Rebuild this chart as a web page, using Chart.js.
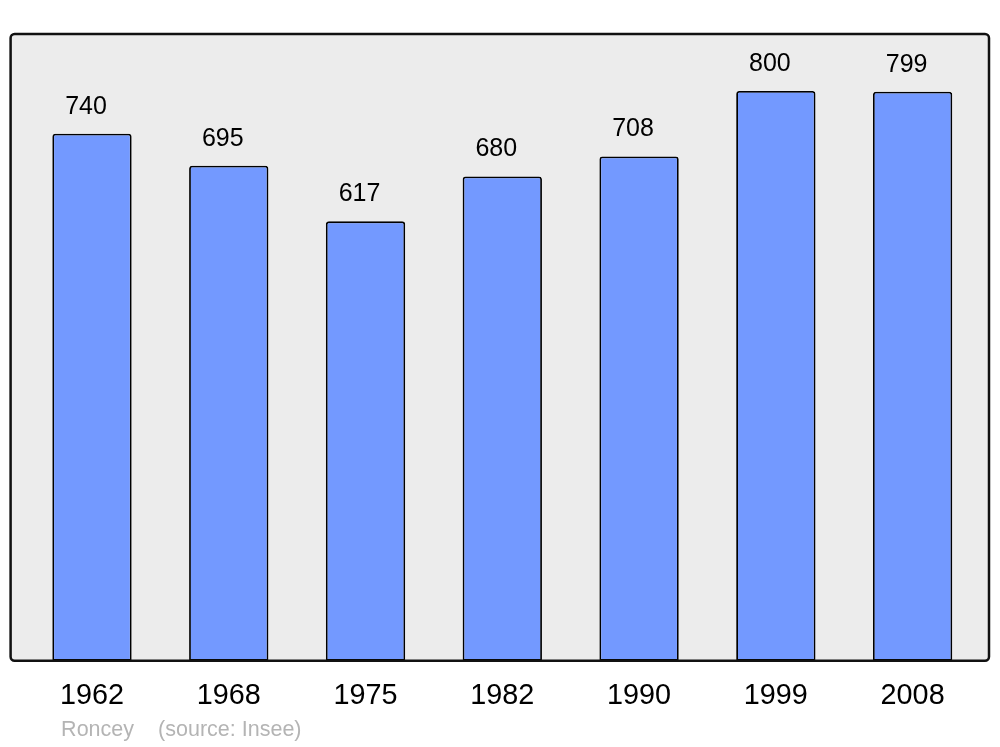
<!DOCTYPE html>
<html>
<head>
<meta charset="utf-8">
<script src="https://cdn.jsdelivr.net/npm/chart.js@4/dist/chart.umd.min.js"></script>
<style>
  html, body { margin: 0; padding: 0; background: #fff; }
  #wrap { width: 1000px; height: 747px; position: relative; }
</style>
</head>
<body>
<div id="wrap"><canvas id="popChart"></canvas></div>
<script>
const years = ['1962', '1968', '1975', '1982', '1990', '1999', '2008'];
const population = [740, 695, 617, 680, 708, 800, 799];
const yMax = 880;
const commune = 'Roncey';
const sourceText = '(source: Insee)';

// fond gris + cadre arrondi
const plotBox = {
  id: 'plotBox',
  beforeDraw(chart) {
    const { ctx, chartArea: a } = chart;
    const x = a.left - 13, y = a.top, w = (a.right + 8) - x, h = a.bottom - a.top;
    ctx.save();
    ctx.beginPath();
    ctx.roundRect(x, y, w, h, 4);
    ctx.fillStyle = '#ececec';
    ctx.fill();
    ctx.restore();
  },
  afterDatasetsDraw(chart) {
    const { ctx, chartArea: a } = chart;
    const x = a.left - 13, y = a.top, w = (a.right + 8) - x, h = a.bottom - a.top;
    ctx.save();
    ctx.beginPath();
    ctx.roundRect(x, y, w, h, 4);
    ctx.lineWidth = 2.5;
    ctx.strokeStyle = '#111';
    ctx.stroke();
    ctx.restore();
  }
};

// valeurs au-dessus des barres + source
const valueLabels = {
  id: 'valueLabels',
  afterDraw(chart) {
    const { ctx, chartArea: a } = chart;
    const meta = chart.getDatasetMeta(0);
    ctx.save();
    ctx.font = '25px "Liberation Sans", Arial, sans-serif';
    ctx.fillStyle = '#000';
    ctx.textAlign = 'center';
    ctx.textBaseline = 'middle';
    meta.data.forEach((bar, i) => {
      ctx.fillText(String(population[i]), bar.x - 6, bar.y - 27);
    });
    ctx.font = '21.5px "Liberation Sans", Arial, sans-serif';
    ctx.fillStyle = '#b4b4b4';
    ctx.textAlign = 'left';
    ctx.fillText(commune, a.left + 37.5, 730);
    ctx.fillText(sourceText, a.left + 134.5, 730);
    ctx.restore();
  }
};

new Chart(document.getElementById('popChart'), {
  type: 'bar',
  data: {
    labels: years,
    datasets: [{
      data: population,
      backgroundColor: '#7399ff',
      borderColor: '#000',
      borderWidth: 1.8,
      borderSkipped: false,
      borderRadius: { topLeft: 3, topRight: 3, bottomLeft: 0, bottomRight: 0 },
      categoryPercentage: 1,
      barPercentage: 0.58
    }]
  },
  options: {
    responsive: true,
    maintainAspectRatio: false,
    animation: false,
    devicePixelRatio: 1,
    layout: { padding: { left: 23.6, right: 19, top: 34, bottom: 15.6 } },
    plugins: { legend: { display: false }, tooltip: { enabled: false } },
    scales: {
      x: {
        grid: { display: false, drawTicks: false },
        border: { display: false },
        ticks: {
          color: '#000',
          padding: 18,
          font: { family: '"Liberation Sans", Arial, sans-serif', size: 28.8 }
        }
      },
      y: { display: false, min: 0, max: yMax }
    }
  },
  plugins: [plotBox, valueLabels]
});
</script>
</body>
</html>
